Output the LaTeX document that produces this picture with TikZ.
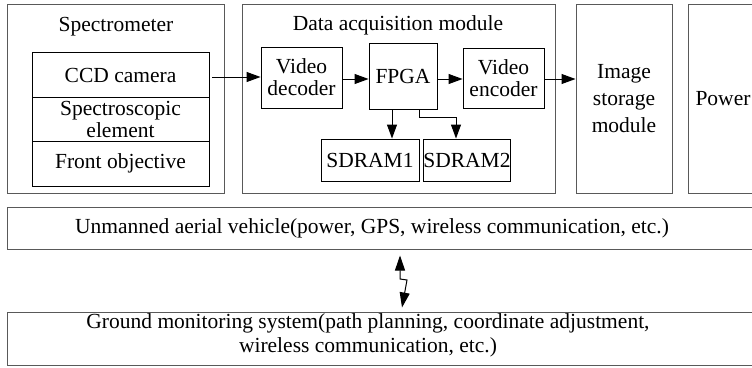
\documentclass[tikz,border=0pt]{standalone}
\usepackage{fontspec}
\setmainfont{Liberation Serif}
\usetikzlibrary{arrows.meta,positioning}
\begin{document}
\begin{tikzpicture}[x=1pt,y=-1pt,
  every node/.style={font=\fontsize{21.5}{22}\selectfont},
  outerbox/.style={draw=black!65,line width=1pt},
  innerbox/.style={draw=black,line width=0.9pt},
  lbl/.style={inner sep=0pt,align=center},
  conn/.style={draw=black,line width=1pt,-{Triangle[length=14pt,width=10pt]}},
  radio/.style={draw=black,line width=1pt,{Triangle[length=15pt,width=10pt]}-{Triangle[length=15pt,width=10pt]}}]
\useasboundingbox (0,0) rectangle (752,367);
\begin{scope}
\clip (0,0) rectangle (752,367);
% Spectrometer
\draw[outerbox] (7,4) rectangle (224,193);
\node[lbl] (spec) at (116,27) {Spectrometer};
\draw[innerbox] (32,52) rectangle (209,186);
\draw[innerbox] (32,97) -- (209,97) (32,141) -- (209,141);
\node[lbl] (ccd) at (120.5,75) {CCD camera};
\node[lbl] (se) at (120.5,119) {Spectroscopic\\element};
\node[lbl] (fo) at (120.5,163.5) {Front objective};
\coordinate (ccdout) at (212,77);
% Data acquisition
\draw[outerbox] (242,4) rectangle (555,193);
\node[lbl] (daq) at (398,25) {Data acquisition module};
\node[innerbox,minimum width=81pt,minimum height=61pt,inner sep=0pt,align=center] (dec) at (301.5,77.5) {Video\\decoder};
\node[innerbox,minimum width=68pt,minimum height=66pt,inner sep=0pt] (fpga) at (403,76) {FPGA};
\node[innerbox,minimum width=81pt,minimum height=60pt,inner sep=0pt,align=center] (enc) at (503.5,78) {Video\\encoder};
\node[innerbox,minimum width=98pt,minimum height=42pt,inner sep=0pt] (sd1) at (370,160) {SDRAM1};
\node[innerbox,minimum width=82pt,minimum height=42pt,inner sep=0pt] (sd2) at (467,160) {SDRAM2};
% Image storage and power
\node[outerbox,minimum width=96pt,minimum height=189pt,inner sep=0pt,align=center] (store) at (624,98.5) {Image\\[5pt]storage\\[5pt]module};
\node[outerbox,minimum width=70pt,minimum height=189pt,inner sep=0pt] (power) at (723,98.5) {Power};
% UAV and ground
\node[outerbox,minimum width=753pt,minimum height=42pt,inner sep=0pt] (uav) at (383.5,228) {};
\node[lbl] at (372,228) {Unmanned aerial vehicle(power, GPS, wireless communication, etc.)};
\node[outerbox,minimum width=753pt,minimum height=53pt,inner sep=0pt] (gnd) at (383.5,338.5) {};
\node[lbl] at (368,335) {Ground monitoring system(path planning, coordinate adjustment,\\[2pt]wireless communication, etc.)};
\end{scope}
% connectors
\draw[conn] (ccdout) -- (dec.west |- ccdout);
\draw[conn] (dec.east |- 0,79) -- (fpga.west |- 0,79);
\draw[conn] (fpga.east |- 0,79) -- (enc.west |- 0,79);
\draw[conn] (enc.east |- 0,79) -- (store.west |- 0,79);
\draw[conn] (fpga.south -| 392,0) -- (sd1.north -| 392,0);
\draw[conn] (fpga.south -| 419,0) -- (419,117) -- (456,117) -- (sd2.north -| 456,0);
\coordinate (r1) at (400,279);
\coordinate (r2) at (407,280);
\draw[radio] ([yshift=-6pt]uav.south -| 400,0) -- (r1) -- (r2) -- ([yshift=4pt]gnd.north -| 402,0);
\end{tikzpicture}
\end{document}
